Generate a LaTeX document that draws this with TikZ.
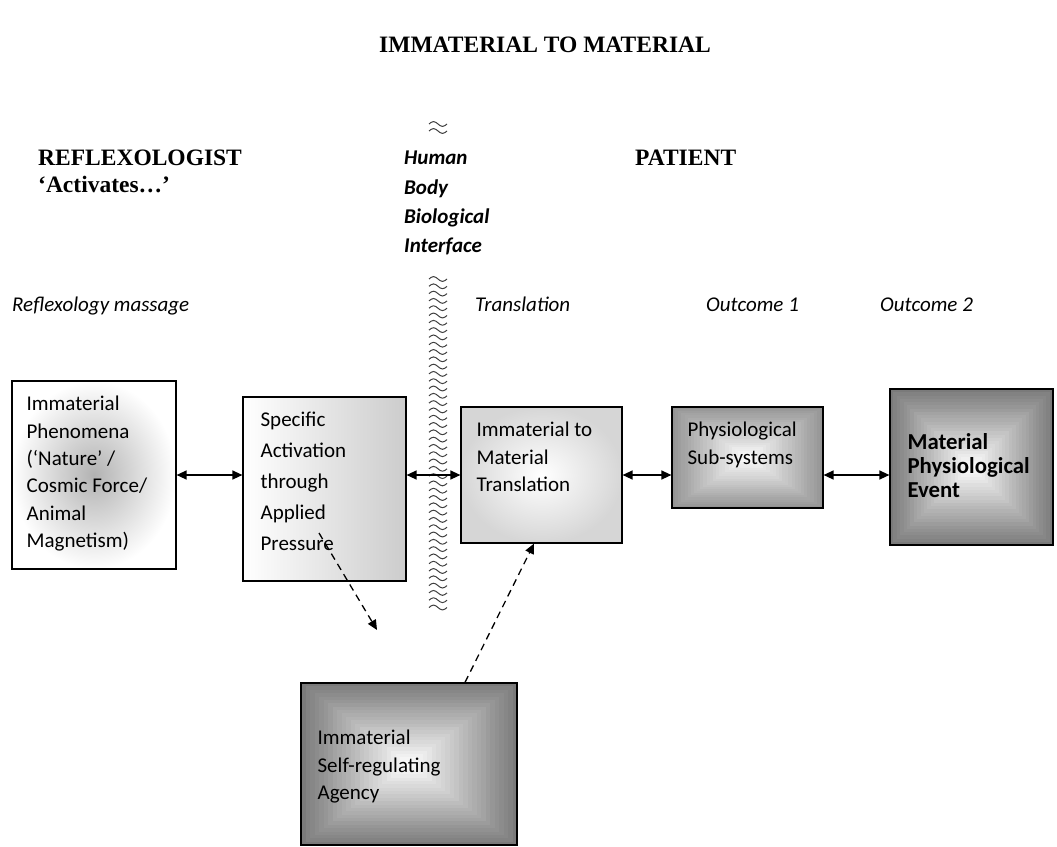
\documentclass[tikz,border=0pt]{standalone}
\usepackage{fontspec}
\setmainfont{Liberation Serif}
\newfontfamily\calibri{Carlito}
\usetikzlibrary{arrows.meta,positioning,calc}

\tikzset{
  box/.style={draw, line width=1.2pt, inner sep=0pt},
  boxtext/.style={font=\calibri\fontsize{21}{27.4}\selectfont, align=left, inner sep=0pt},
  head/.style={font=\bfseries\fontsize{23.5}{28}\selectfont, inner sep=0pt, anchor=base west},
  lab/.style={font=\calibri\itshape\fontsize{21}{25}\selectfont, inner sep=0pt, anchor=base west},
  link/.style={<->, line width=1.3pt},
  dashlink/.style={->, line width=1.3pt, dash pattern=on 7pt off 5pt},
  wave/.style={black!75, line width=1pt},
  frameshade/.style={path picture={
      \foreach \k [evaluate=\k as \shadepct using int(#1*(1-\k/24))] in {0,...,23}
        \fill[black!\shadepct]
          ($(path picture bounding box.south west)!\k/48!(path picture bounding box.north east)$)
          rectangle ($(path picture bounding box.north east)!\k/48!(path picture bounding box.south west)$);
  }},
}

\begin{document}
\begin{tikzpicture}[x=1pt, y=-1pt, >={Triangle[length=10pt,width=9pt]}]
    \useasboundingbox (0,0) rectangle (1057,846);

    % Titel und Kopfzeilen
    \node[head, anchor=base] (title) at (545,52) {IMMATERIAL TO MATERIAL};
    \node[head] (reflex) at (38,165) {REFLEXOLOGIST};
    \node[head] (activates) at (38,192) {‘Activates…’};
    \node[head] (patient) at (635,165) {PATIENT};

    % Grenzflaeche (Wellenband)
    \foreach \y in {124,131} {
        \draw[wave] (429,\y) sin (433.5,\y-2.4) cos (438,\y) sin (442.5,\y+2.4) cos (447,\y);
    }
    \foreach \y in {279,286.3,...,610} {
        \draw[wave] (429,\y) sin (433.5,\y-2.4) cos (438,\y) sin (442.5,\y+2.4) cos (447,\y);
    }
    \node[font=\calibri\bfseries\itshape\fontsize{21}{29.3}\selectfont, align=left,
          inner sep=0pt, anchor=north west] (iface) at (404,151)
          {Human\\Body\\Biological\\Interface};

    % Spaltenbeschriftungen
    \node[lab] (lmassage) at (12,311) {Reflexology massage};
    \node[lab] (ltransl) at (475,311) {Translation};
    \node[lab] (lout1) at (706,311) {Outcome 1};
    \node[lab] (lout2) at (880,311) {Outcome 2};

    % Kaesten
    \node[box, minimum width=164pt, minimum height=188pt, inner color=black!30, outer color=white]
        (phen) at (94,475) {};
    \node[box, minimum width=163pt, minimum height=184pt, left color=white, right color=black!20]
        (activ) at (324.5,489) {};
    \node[box, minimum width=161pt, minimum height=136pt, inner color=white, outer color=black!16]
        (transl) at (541.5,475) {};
    \node[box, minimum width=151pt, minimum height=101pt, frameshade=42]
        (subsys) at (747.5,457.5) {};
    \node[box, minimum width=163pt, minimum height=156pt, frameshade=52]
        (event) at (971.5,467) {};
    \node[box, minimum width=216pt, minimum height=162pt, frameshade=52]
        (agency) at (409,764) {};

    \node[boxtext, below right=15.5pt and 15pt of phen.north west] (phentxt)
        {Immaterial\\Phenomena\\(‘Nature’ /\\Cosmic Force/\\Animal\\Magnetism)};
    \node[boxtext, font=\calibri\fontsize{21}{31}\selectfont, below right=15.5pt and 18pt of activ.north west] (activtxt)
        {Specific\\Activation\\through\\Applied\\Pressure};
    \node[boxtext, below right=15.5pt and 16pt of transl.north west] (transltxt)
        {Immaterial to\\Material\\Translation};
    \node[boxtext, below right=15.5pt and 16pt of subsys.north west] (subsystxt)
        {Physiological\\Sub-systems};
    \node[boxtext, font=\calibri\bfseries\fontsize{22.8}{24}\selectfont, below right=45pt and 18pt of event.north west] (eventtxt)
        {Material\\Physiological\\Event};
    \node[boxtext, below right=47.5pt and 17pt of agency.north west] (agencytxt)
        {Immaterial\\Self-regulating\\Agency};

    % Verbindungen
    \draw[link] (phen.east) -- (activ.west |- phen.east);
    \draw[link] (activ.east |- transl.east) -- (transl.west);
    \draw[link] (transl.east) -- (subsys.west |- transl.east);
    \draw[link] (subsys.east |- transl.east) -- (event.west |- transl.east);

    \coordinate (dropstart) at (319,533);
    \coordinate (dropend) at (377,630);
    \draw[dashlink] (dropstart) -- (dropend);
    \draw[dashlink] ([xshift=56pt]agency.north) -- ([xshift=-7.5pt]transl.south);

\end{tikzpicture}
\end{document}
